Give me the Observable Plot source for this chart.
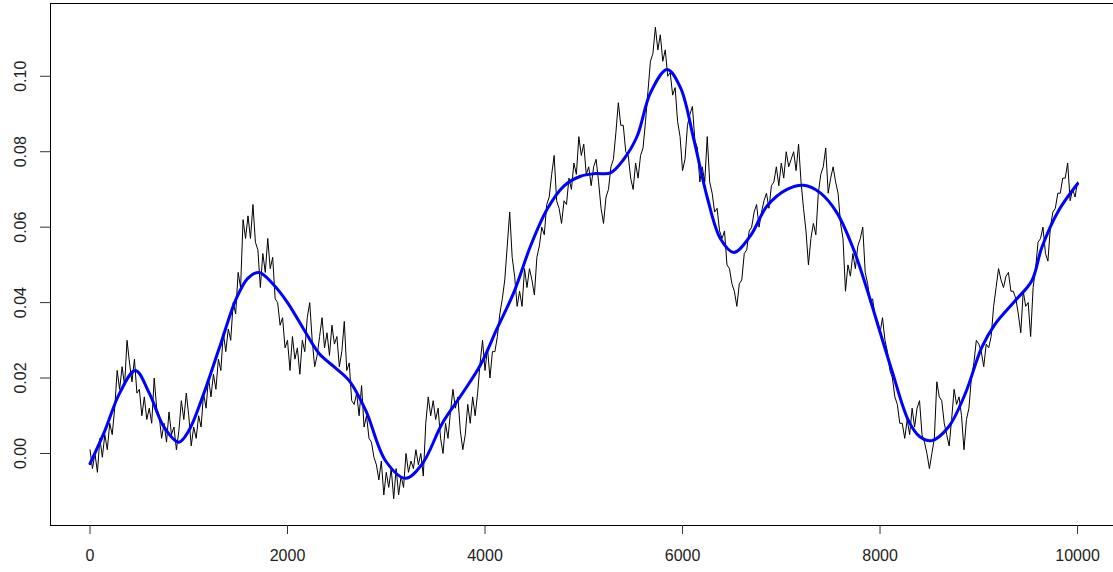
<!DOCTYPE html>
<html><head><meta charset="utf-8">
<script src="https://cdn.jsdelivr.net/npm/d3@7"></script>
<script src="https://cdn.jsdelivr.net/npm/@observablehq/plot@0.6"></script>
<style>html,body{margin:0;padding:0;background:#fff;}</style>
</head><body><div id="chart"></div>
<script>
// Random-walk values, one every walkStep units of x
const walkStep = 25;
const walkY = [
  0.001, -0.004, 0.000, -0.005,
  0.004, -0.001, 0.005, 0.001,
  0.008, 0.005, 0.012, 0.022,
  0.017, 0.023, 0.018, 0.030,
  0.024, 0.019, 0.025, 0.016,
  0.017, 0.010, 0.015, 0.009,
  0.012, 0.008, 0.020, 0.012,
  0.010, 0.004, 0.008, 0.003,
  0.011, 0.005, 0.007, 0.001,
  0.006, 0.014, 0.009, 0.016,
  0.010, 0.002, 0.007, 0.004,
  0.010, 0.007, 0.016, 0.012,
  0.020, 0.015, 0.021, 0.017,
  0.025, 0.022, 0.032, 0.027,
  0.033, 0.030, 0.040, 0.037,
  0.048, 0.044, 0.062, 0.057,
  0.063, 0.057, 0.066, 0.056,
  0.054, 0.044, 0.053, 0.048,
  0.057, 0.049, 0.052, 0.041,
  0.040, 0.034, 0.036, 0.028,
  // 2000
  0.030, 0.022, 0.031, 0.025,
  0.028, 0.021, 0.030, 0.027,
  0.036, 0.040, 0.030, 0.023,
  0.026, 0.031, 0.036, 0.028,
  0.032, 0.026, 0.034, 0.029,
  0.031, 0.023, 0.027, 0.035,
  0.022, 0.024, 0.014, 0.013,
  0.016, 0.010, 0.018, 0.007,
  0.010, 0.004, 0.003, -0.001,
  -0.003, -0.007, -0.002, -0.011,
  -0.005, -0.009, -0.004, -0.012,
  -0.004, -0.011, -0.006, -0.009,
  0.000, -0.005, -0.002, -0.004,
  0.001, -0.003, 0.000, -0.006,
  0.008, 0.015, 0.010, 0.014,
  0.009, 0.012, 0.004, 0.000,
  0.008, 0.004, 0.011, 0.017,
  0.012, 0.015, 0.006, 0.001,
  0.005, 0.013, 0.008, 0.015,
  0.010, 0.016, 0.024, 0.030,
  // 4000
  0.022, 0.028, 0.020, 0.027,
  0.027, 0.031, 0.037, 0.041,
  0.046, 0.055, 0.064, 0.052,
  0.047, 0.039, 0.043, 0.039,
  0.049, 0.044, 0.049, 0.046,
  0.042, 0.052, 0.055, 0.060,
  0.058, 0.066, 0.068, 0.074,
  0.079, 0.067, 0.065, 0.061,
  0.067, 0.066, 0.073, 0.070,
  0.077, 0.074, 0.084, 0.079,
  0.082, 0.074, 0.076, 0.071,
  0.076, 0.078, 0.072, 0.065,
  0.061, 0.068, 0.070, 0.076,
  0.078, 0.085, 0.093, 0.087,
  0.087, 0.080, 0.079, 0.073,
  0.070, 0.077, 0.073, 0.079,
  0.081, 0.088, 0.096, 0.104,
  0.106, 0.113, 0.107, 0.111,
  0.104, 0.107, 0.100, 0.101,
  0.095, 0.097, 0.088, 0.084,
  // 6000
  0.075, 0.078, 0.087, 0.090,
  0.092, 0.083, 0.081, 0.072,
  0.076, 0.072, 0.084, 0.072,
  0.069, 0.064, 0.065, 0.059,
  0.057, 0.059, 0.050, 0.049,
  0.045, 0.043, 0.039, 0.045,
  0.046, 0.053, 0.054, 0.059,
  0.060, 0.064, 0.066, 0.060,
  0.064, 0.067, 0.069, 0.065,
  0.071, 0.072, 0.076, 0.071,
  0.077, 0.073, 0.080, 0.076,
  0.078, 0.080, 0.075, 0.082,
  0.072, 0.065, 0.059, 0.050,
  0.057, 0.061, 0.058, 0.069,
  0.074, 0.076, 0.081, 0.069,
  0.073, 0.076, 0.072, 0.069,
  0.061, 0.057, 0.043, 0.050,
  0.047, 0.053, 0.049, 0.055,
  0.057, 0.060, 0.048, 0.045,
  0.040, 0.041, 0.036, 0.035,
  // 8000
  0.032, 0.036, 0.030, 0.027,
  0.022, 0.020, 0.015, 0.013,
  0.008, 0.008, 0.004, 0.009,
  0.005, 0.012, 0.007, 0.012,
  0.014, 0.005, 0.003, 0.000,
  -0.004, 0.000, 0.004, 0.019,
  0.015, 0.014, 0.008, 0.005,
  0.002, 0.009, 0.017, 0.013,
  0.015, 0.010, 0.001, 0.009,
  0.012, 0.020, 0.024, 0.030,
  0.029, 0.027, 0.023, 0.029,
  0.028, 0.031, 0.039, 0.044,
  0.049, 0.046, 0.044, 0.047,
  0.048, 0.043, 0.043, 0.041,
  0.037, 0.032, 0.043, 0.039,
  0.040, 0.031, 0.044, 0.049,
  0.056, 0.057, 0.060, 0.053,
  0.051, 0.060, 0.064, 0.065,
  0.069, 0.069, 0.073, 0.073,
  0.077, 0.067, 0.070, 0.068,
  0.072
];

// Smoothed (blue) curve
const smoothX = [0, 150, 300, 460, 600, 750, 900, 1000, 1140, 1310, 1480, 1600, 1713, 1850, 2000,
  2185, 2320, 2470, 2624, 2792, 2994, 3197, 3366, 3568, 3770, 3955, 4120, 4292, 4461, 4630,
  4798, 4967, 5120, 5270, 5405, 5540, 5675, 5844, 5979, 6114, 6249, 6384, 6518, 6687, 6856,
  7058, 7227, 7395, 7564, 7732, 7867, 8002, 8120, 8288, 8400, 8524, 8693, 8862, 9030, 9165,
  9368, 9537, 9638, 9806, 10000];
const smoothY = [-0.0027, 0.006, 0.016, 0.022, 0.016, 0.007, 0.003, 0.006, 0.015, 0.028, 0.041, 0.0465, 0.048, 0.045, 0.040,
  0.032, 0.0265, 0.023, 0.0193, 0.0114, -0.002, -0.0066, -0.0027, 0.008, 0.0159, 0.0235, 0.033, 0.0427, 0.055, 0.0648,
  0.0709, 0.0735, 0.0742, 0.0744, 0.078, 0.0841, 0.0956, 0.1018, 0.097, 0.0833, 0.068, 0.0569, 0.0533, 0.0577, 0.0656,
  0.070, 0.0711, 0.0691, 0.0638, 0.0541, 0.0436, 0.032, 0.022, 0.0087, 0.0045, 0.0034, 0.007, 0.0158, 0.0281, 0.0343,
  0.0405, 0.0458, 0.0546, 0.0643, 0.0715];

const xTicks = [0, 2000, 4000, 6000, 8000, 10000];
const yTicks = [0.00, 0.02, 0.04, 0.06, 0.08, 0.10];

const walk = walkY.map((y, i) => ({x: i * walkStep, y}));
const smooth = smoothX.map((x, i) => ({x, y: smoothY[i]}));
const xDomain = [-400, 10364];
const yDomain = [-0.0191, 0.1193];

const chart = Plot.plot({
  width: 1113,
  height: 572,
  marginLeft: 50,
  marginRight: 0,
  marginTop: 3,
  marginBottom: 47,
  style: {fontFamily: "'Liberation Sans', Arial, sans-serif", fontSize: "16px", color: "#222", background: "#fff"},
  x: {domain: xDomain},
  y: {domain: yDomain},
  marks: [
    Plot.ruleX([xDomain[0]], {stroke: "#000"}),
    Plot.ruleY(yDomain, {stroke: "#000"}),
    Plot.axisX({ticks: xTicks, tickSize: 9, tickPadding: 15, tickFormat: d => String(d), label: null, stroke: "#333"}),
    Plot.axisY({ticks: yTicks, tickSize: 10, tickPadding: 15, tickRotate: -90, tickFormat: d3.format(".2f"), label: null, stroke: "#333"}),
    Plot.line(walk, {x: "x", y: "y", stroke: "#000", strokeWidth: 1}),
    Plot.line(smooth, {x: "x", y: "y", stroke: "#0000ff", strokeWidth: 3, curve: "catmull-rom"})
  ]
});
document.getElementById("chart").appendChild(chart);
</script>
</body></html>
